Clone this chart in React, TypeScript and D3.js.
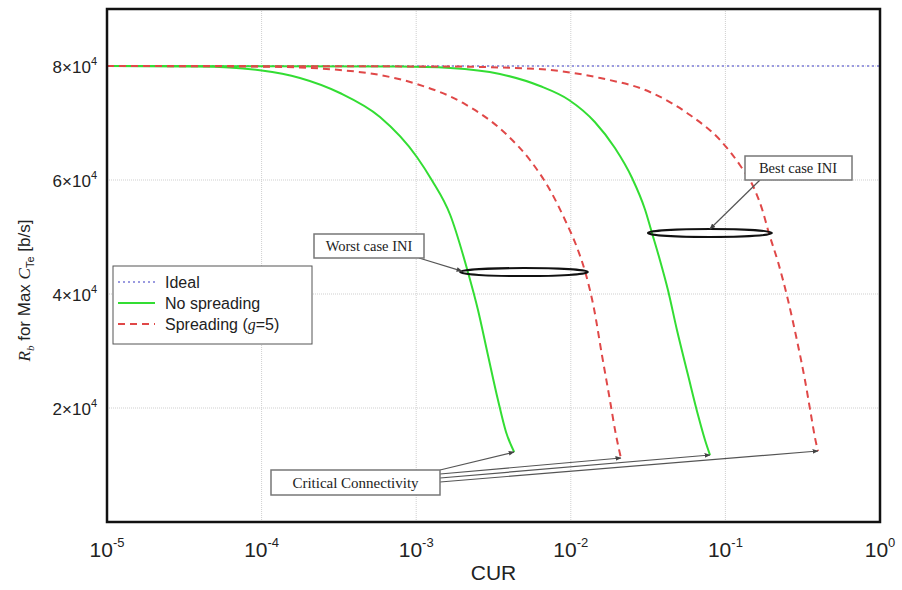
import { useEffect } from "react";
import * as d3 from "d3";

// curve data: [CUR, Rb]
const idealCur = [1e-5, 1];
const idealRb = [80000, 80000];

const noSpread1: [number, number][] = [
  [1e-5, 80000], [4.0e-5, 79910], [1.0e-4, 79210], [1.77e-4, 77900], [3.21e-4, 75260],
  [5.83e-4, 71050], [1.01e-3, 64040], [1.26e-3, 60000], [1.66e-3, 53860], [2.16e-3, 43860],
  [2.51e-3, 37190], [2.91e-3, 29300], [3.38e-3, 21400], [3.81e-3, 15790], [4.3e-3, 12280],
];
const spread1: [number, number][] = [
  [1e-5, 80000], [8.41e-5, 79910], [1.77e-4, 79740], [3.21e-4, 79300], [5.83e-4, 78420],
  [1.01e-3, 76840], [2.01e-3, 73510], [3.87e-3, 67900], [5.44e-3, 63510], [7.33e-3, 58250],
  [9.18e-3, 52980], [1.1e-2, 48070], [1.24e-2, 43860], [1.41e-2, 37540], [1.59e-2, 29300],
  [1.79e-2, 21400], [1.96e-2, 15260], [2.11e-2, 11230],
];
const noSpread2: [number, number][] = [
  [1e-5, 80000], [7.85e-4, 79910], [1.66e-3, 79650], [3.48e-3, 78600], [6.32e-3, 76490],
  [9.73e-3, 74040], [1.43e-2, 70180], [1.93e-2, 65610], [2.49e-2, 60350], [3.02e-2, 54820],
  [3.35e-2, 50700], [3.77e-2, 45970], [4.25e-2, 40700], [4.86e-2, 33680], [5.73e-2, 25790],
  [6.65e-2, 18770], [7.38e-2, 14390], [7.95e-2, 11750],
];
const spread2: [number, number][] = [
  [1e-5, 80000], [1.66e-3, 79910], [3.48e-3, 79740], [7.33e-3, 79300], [1.55e-2, 77890],
  [3.25e-2, 75440], [5.9e-2, 71400], [9.23e-2, 67020], [0.124, 62630], [0.155, 58250],
  [0.175, 54390], [0.191, 50700], [0.219, 45610], [0.254, 38950], [0.29, 31930],
  [0.327, 24910], [0.358, 18770], [0.38, 14740], [0.397, 12460],
];

const xTicks = [1e-5, 1e-4, 1e-3, 1e-2, 1e-1, 1];
const xTickExp = ["-5", "-4", "-3", "-2", "-1", "0"];
const yTicks = [20000, 40000, 60000, 80000];
const yTickMant = ["2", "4", "6", "8"];

// INI ellipses: [CUR left, CUR right, Rb]
const worstCase = [1.92e-3, 1.29e-2, 43850];
const bestCase = [3.15e-2, 0.2, 50700];

const legendItems = ["Ideal", "No spreading", "Spreading"];

const GREEN = "#33dd33";
const RED = "#e04848";
const BLUE = "#9a9ae0";
const GRID = "#cfcfcf";

export default function App() {
  useEffect(() => {
    document.body.style.margin = "0";
  }, []);

  const width = 902;
  const height = 590;
  const margin = { top: 9, right: 22, bottom: 68, left: 107 };
  const innerW = width - margin.left - margin.right;
  const innerH = height - margin.top - margin.bottom;

  const x = d3.scaleLog().domain([1e-5, 1]).range([0, innerW]);
  const y = d3.scaleLinear().domain([0, 90000]).range([innerH, 0]);

  const line = d3
    .line<[number, number]>()
    .x((d) => x(d[0]))
    .y((d) => y(d[1]))
    .curve(d3.curveMonotoneX);

  const ideal = idealCur.map((c, i) => [c, idealRb[i]] as [number, number]);

  const ends = [noSpread1, spread1, noSpread2, spread2].map((s) => s[s.length - 1]);

  const sans = "'Liberation Sans', Arial, sans-serif";
  const serif = "'Liberation Serif', 'Times New Roman', serif";

  const wcx = (x(worstCase[0]) + x(worstCase[1])) / 2;
  const wrx = (x(worstCase[1]) - x(worstCase[0])) / 2;
  const bcx = (x(bestCase[0]) + x(bestCase[1])) / 2;
  const brx = (x(bestCase[1]) - x(bestCase[0])) / 2;

  return (
    <svg width={width} height={height} style={{ display: "block", background: "#fff" }}>
      <defs>
        <marker id="arr" viewBox="0 0 10 10" refX="9" refY="5" markerWidth="5" markerHeight="5" orient="auto">
          <path d="M0,1 L10,5 L0,9 z" fill="#444" />
        </marker>
      </defs>
      <g transform={`translate(${margin.left},${margin.top})`}>
        {/* grid */}
        {xTicks.slice(1, -1).map((t) => (
          <line key={`gx${t}`} x1={x(t)} x2={x(t)} y1={0} y2={innerH} stroke={GRID} strokeDasharray="1,1" />
        ))}
        {yTicks.map((t) => (
          <line key={`gy${t}`} x1={0} x2={innerW} y1={y(t)} y2={y(t)} stroke={GRID} strokeDasharray="1,1" />
        ))}

        {/* curves */}
        <path d={line(ideal) ?? ""} fill="none" stroke={BLUE} strokeWidth={2} strokeDasharray="2,3" />
        <path d={line(noSpread1) ?? ""} fill="none" stroke={GREEN} strokeWidth={2} />
        <path d={line(noSpread2) ?? ""} fill="none" stroke={GREEN} strokeWidth={2} />
        <path d={line(spread1) ?? ""} fill="none" stroke={RED} strokeWidth={2} strokeDasharray="7,5" />
        <path d={line(spread2) ?? ""} fill="none" stroke={RED} strokeWidth={2} strokeDasharray="7,5" />

        {/* INI ellipses */}
        <ellipse cx={wcx} cy={y(worstCase[2])} rx={wrx} ry={4} fill="none" stroke="#111" strokeWidth={2} />
        <ellipse cx={bcx} cy={y(bestCase[2])} rx={brx} ry={4} fill="none" stroke="#111" strokeWidth={2} />

        {/* Worst case label */}
        <line x1={312} y1={249} x2={x(worstCase[0]) + 2} y2={y(worstCase[2]) - 1}
          stroke="#555" strokeWidth={1.2} markerEnd="url(#arr)" />
        <rect x={207} y={225} width={110} height={24} fill="#fff" stroke="#777" strokeWidth={1.5} />
        <text x={262} y={242} textAnchor="middle" fontFamily={serif} fontSize={14.5} fill="#222">Worst case INI</text>

        {/* Best case label */}
        <line x1={653} y1={171} x2={bcx} y2={y(bestCase[2]) - 4}
          stroke="#555" strokeWidth={1.2} markerEnd="url(#arr)" />
        <rect x={638} y={147} width={107} height={24} fill="#fff" stroke="#777" strokeWidth={1.5} />
        <text x={691} y={164} textAnchor="middle" fontFamily={serif} fontSize={14.5} fill="#222">Best case INI</text>

        {/* Critical connectivity */}
        {ends.map((e, i) => (
          <line key={`cc${i}`} x1={333} y1={470 - margin.top + i * 4} x2={x(e[0])} y2={y(e[1])}
            stroke="#555" strokeWidth={1.2} markerEnd="url(#arr)" />
        ))}
        <rect x={164} y={461} width={169} height={25} fill="#fff" stroke="#777" strokeWidth={1.5} />
        <text x={248.5} y={479} textAnchor="middle" fontFamily={serif} fontSize={15} fill="#222">Critical Connectivity</text>

        {/* legend */}
        <g transform="translate(6,257)">
          <rect x={0} y={0} width={199} height={78} fill="#fff" stroke="#555" strokeWidth={1} />
          <line x1={5} x2={42} y1={16} y2={16} stroke={BLUE} strokeWidth={2} strokeDasharray="2,3" />
          <line x1={5} x2={42} y1={37} y2={37} stroke={GREEN} strokeWidth={2} />
          <line x1={5} x2={42} y1={58} y2={58} stroke={RED} strokeWidth={2} strokeDasharray="7,5" />
          <text x={52} y={22} fontFamily={sans} fontSize={16} fill="#222">{legendItems[0]}</text>
          <text x={52} y={43} fontFamily={sans} fontSize={16} fill="#222">{legendItems[1]}</text>
          <text x={52} y={64} fontFamily={sans} fontSize={16} fill="#222">
            {legendItems[2]} (<tspan fontFamily={serif} fontStyle="italic">g</tspan>=5)
          </text>
        </g>

        {/* frame */}
        <rect x={0} y={0} width={innerW} height={innerH} fill="none" stroke="#111" strokeWidth={2.5} />

        {/* x tick labels */}
        {xTicks.map((t, i) => (
          <text key={`xt${t}`} x={x(t)} y={innerH + 35} textAnchor="middle" fontFamily={sans} fontSize={21} fill="#222">
            10<tspan dy={-10} fontSize={13}>{xTickExp[i]}</tspan>
          </text>
        ))}
        <text x={innerW / 2} y={innerH + 58} textAnchor="middle" fontFamily={sans} fontSize={21} fill="#222">CUR</text>

        {/* y tick labels */}
        {yTicks.map((t, i) => (
          <text key={`yt${t}`} x={-10} y={y(t) + 7} textAnchor="end" fontFamily={sans} fontSize={17} fill="#222">
            {yTickMant[i]}×10<tspan dy={-8} fontSize={11}>4</tspan>
          </text>
        ))}

        {/* y title */}
        <text transform={`translate(-77,${innerH / 2 + 25}) rotate(-90)`} textAnchor="middle" fontFamily={sans} fontSize={17} fill="#222">
          <tspan fontFamily={serif} fontStyle="italic">R</tspan>
          <tspan dy={4} fontSize={11} fontFamily={serif} fontStyle="italic">b</tspan>
          <tspan dy={-4}> for Max </tspan>
          <tspan fontFamily={serif} fontStyle="italic">C</tspan>
          <tspan dy={4} fontSize={11}>Te</tspan>
          <tspan dy={-4}> [b/s]</tspan>
        </text>
      </g>
    </svg>
  );
}
